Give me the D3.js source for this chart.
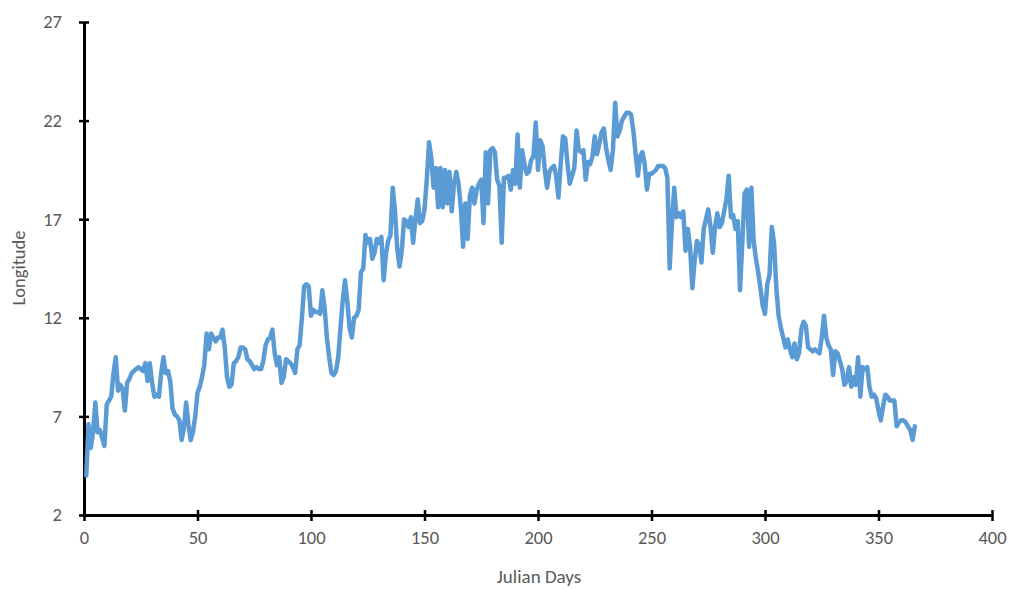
<!DOCTYPE html>
<html>
<head>
<meta charset="utf-8">
<script src="https://cdn.jsdelivr.net/npm/d3@7"></script>
<style>
	body { margin: 0; background: #fff; }
	text { font-family: Carlito, "Liberation Sans", Arial, sans-serif; }
</style>
</head>
<body>
<div id="container"></div>
<script>
// longitude per julian day (day 1..366)
const longitude = [
	4.0, 6.6, 5.4, 6.2, 7.7, 6.2, 6.3, 5.9, 5.5, 7.6,
	7.8, 8.0, 9.2, 10.0, 8.3, 8.6, 8.4, 7.3, 8.7, 8.9,
	9.2, 9.3, 9.4, 9.5, 9.4, 9.3, 9.7, 8.8, 9.7, 8.7,
	8.0, 8.1, 8.0, 9.2, 10.0, 9.2, 9.3, 8.8, 7.4, 7.1,
	7.0, 6.8, 5.8, 6.4, 7.7, 6.6, 5.8, 6.2, 7.0, 8.2,
	8.5, 9.0, 9.6, 11.2, 10.4, 11.2, 11.0, 10.8, 11.0, 11.0,
	11.4, 10.5, 9.0, 8.5, 8.6, 9.7, 9.8, 10.0, 10.5, 10.5,
	10.4, 9.9, 9.8, 9.6, 9.4, 9.5, 9.4, 9.4, 9.8, 10.6,
	10.9, 11.0, 11.4, 10.2, 9.6, 10.0, 8.7, 9.0, 9.9, 9.8,
	9.7, 9.5, 9.2, 10.4, 10.6, 12.0, 13.6, 13.7, 13.6, 12.1,
	12.4, 12.3, 12.3, 12.2, 13.4, 12.5, 11.0, 10.0, 9.2, 9.1,
	9.3, 10.0, 11.5, 12.9, 13.9, 12.8, 11.5, 11.0, 12.0, 12.1,
	12.4, 14.3, 14.5, 16.2, 15.8, 16.0, 15.0, 15.3, 16.0, 15.8,
	16.1, 13.9, 15.2, 15.9, 16.2, 18.6, 17.4, 15.5, 14.6, 15.4,
	17.0, 16.9, 16.6, 17.1, 15.8, 17.0, 18.0, 16.8, 16.9, 17.5,
	19.0, 20.9, 20.1, 18.6, 19.6, 17.6, 19.6, 17.6, 19.5, 17.8,
	19.4, 17.4, 18.8, 19.4, 18.8, 17.6, 15.6, 17.8, 16.0, 18.2,
	18.6, 17.8, 18.5, 18.8, 19.0, 16.8, 20.4, 17.8, 20.5, 20.6,
	20.4, 19.0, 18.7, 15.8, 19.1, 19.1, 19.2, 18.5, 19.5, 18.8,
	21.3, 18.6, 20.5, 19.8, 19.3, 19.4, 20.0, 20.2, 21.9, 19.5,
	21.0, 20.7, 19.5, 18.6, 19.4, 19.6, 19.7, 19.2, 18.1, 19.8,
	21.2, 21.1, 19.8, 18.8, 19.2, 19.6, 21.5, 20.5, 20.4, 20.5,
	19.0, 19.9, 19.8, 20.2, 21.2, 20.3, 20.8, 21.4, 21.6, 20.6,
	20.0, 19.5, 20.5, 22.9, 21.2, 21.5, 22.0, 22.2, 22.4, 22.4,
	22.3, 21.5, 20.3, 19.2, 20.2, 20.4, 19.8, 18.5, 19.3, 19.3,
	19.4, 19.5, 19.7, 19.7, 19.7, 19.6, 19.1, 14.5, 16.8, 18.6,
	17.1, 17.3, 17.1, 17.4, 15.4, 16.5, 15.6, 13.5, 14.9, 15.9,
	15.7, 14.8, 16.5, 17.0, 17.5, 16.6, 15.3, 16.6, 17.3, 16.6,
	16.8, 17.4, 18.0, 19.2, 17.1, 17.2, 16.5, 16.9, 13.4, 15.8,
	18.3, 18.5, 15.6, 18.6, 15.9, 15.0, 14.3, 13.5, 12.6, 12.2,
	13.7, 14.2, 16.6, 15.8, 13.5, 12.1, 11.5, 11.0, 10.5, 10.9,
	10.4, 10.0, 10.7, 9.9, 10.2, 11.4, 11.8, 11.6, 10.5, 10.4,
	10.3, 10.4, 10.3, 10.2, 11.0, 12.1, 11.0, 10.6, 10.4, 9.1,
	10.3, 10.2, 9.8, 9.4, 8.6, 8.8, 9.5, 8.5, 9.0, 8.6,
	10.0, 8.0, 9.5, 9.4, 9.5, 8.5, 8.0, 8.1, 7.9, 7.3,
	6.8, 7.5, 8.1, 8.0, 7.8, 7.8, 7.8, 6.5, 6.7, 6.8,
	6.8, 6.7, 6.5, 6.3, 5.8, 6.5
];
const xTicks = [0, 50, 100, 150, 200, 250, 300, 350, 400];
const yTicks = [2, 7, 12, 17, 22, 27];

const W = 1011, H = 590;
const plot = { left: 84, right: 992, top: 22, bottom: 515 };

const svg = d3.select('#container')
	.append('svg')
	.attr('width', W)
	.attr('height', H);

const x = d3.scaleLinear().domain([0, 400]).range([plot.left, plot.right]);
const y = d3.scaleLinear().domain([2, 27]).range([plot.bottom, plot.top]);

const data = longitude.map((v, i) => ({ day: i + 1, value: v }));

// axes
const xAxis = svg.append('g')
	.attr('transform', 'translate(0,' + plot.bottom + ')')
	.call(d3.axisBottom(x).tickValues(xTicks).tickSize(0).tickPadding(16));
const yAxis = svg.append('g')
	.attr('transform', 'translate(' + plot.left + ',0)')
	.call(d3.axisLeft(y).tickValues(yTicks).tickSize(0).tickPadding(22));

[xAxis, yAxis].forEach(g => {
	g.select('.domain').attr('stroke', '#000').attr('stroke-width', 3);
	g.selectAll('text').attr('fill', '#595959').style('font-size', '18.5px');
});

// ticks crossing the axes
xAxis.selectAll('.tick line')
	.attr('y1', -5).attr('y2', 6)
	.attr('stroke', '#000').attr('stroke-width', 2.5);
yAxis.selectAll('.tick line')
	.attr('x1', -5).attr('x2', 5)
	.attr('stroke', '#000').attr('stroke-width', 2.5);

// line
const line = d3.line()
	.x(d => x(d.day))
	.y(d => y(d.value));

svg.append('path')
	.datum(data)
	.attr('fill', 'none')
	.attr('stroke', '#5B9BD5')
	.attr('stroke-width', 4.5)
	.attr('stroke-linejoin', 'round')
	.attr('stroke-linecap', 'round')
	.attr('d', line);

// titles
svg.append('text')
	.attr('x', 539)
	.attr('y', 583)
	.attr('text-anchor', 'middle')
	.attr('fill', '#595959')
	.style('font-size', '19px')
	.text('Julian Days');

svg.append('text')
	.attr('transform', 'translate(25,' + 268 + ') rotate(-90)')
	.attr('text-anchor', 'middle')
	.attr('fill', '#595959')
	.style('font-size', '18.5px')
	.text('Longitude');
</script>
</body>
</html>
